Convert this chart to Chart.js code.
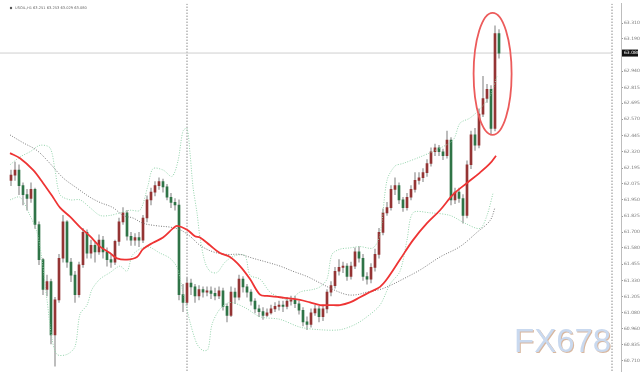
<!DOCTYPE html>
<html><head><meta charset="utf-8">
<script src="https://cdn.jsdelivr.net/npm/chart.js@4"></script>
<style>html,body{margin:0;padding:0;background:#fff;overflow:hidden}canvas{display:block}</style>
</head><body>
<canvas id="c" width="640" height="375"></canvas>
<script>
const headerText = 'USOIL,H1 63.251 63.253 63.029 63.080';
const watermarkText = 'FX678';

const candleOpen = [
62.10,62.14,62.18,62.06,61.99,61.96,62.03,61.76,61.49,61.26,
61.32,60.91,61.18,61.50,61.78,61.47,61.37,61.22,61.45,61.70,
61.54,61.60,61.55,61.64,61.55,61.49,61.47,61.63,61.78,61.85,
61.67,61.64,61.66,61.64,61.81,61.95,62.01,62.06,62.09,62.05,
61.97,61.93,61.91,61.22,61.16,61.31,61.28,61.21,61.26,61.24,
61.25,61.23,61.21,61.25,61.13,61.06,61.24,61.20,61.34,61.28,
61.24,61.17,61.11,61.09,61.06,61.08,61.11,61.13,61.14,61.13,
61.17,61.18,61.15,61.10,61.01,60.99,61.08,61.11,61.05,61.11,
61.24,61.29,61.40,61.43,61.44,61.36,61.44,61.55,61.50,61.36,
61.34,61.43,61.53,61.70,61.85,61.89,62.03,62.06,61.95,61.89,
61.97,62.03,62.10,62.12,62.16,62.23,62.32,62.35,62.32,62.29,
62.41,61.95,62.01,61.96,61.83,62.22,62.45,62.37,62.61,62.73,
62.80,62.50,63.23];
const candleClose = [
62.14,62.18,62.06,61.99,61.96,62.03,61.76,61.49,61.26,61.32,
60.91,61.18,61.50,61.78,61.47,61.37,61.22,61.45,61.70,61.54,
61.60,61.55,61.64,61.55,61.49,61.47,61.63,61.78,61.85,61.67,
61.64,61.66,61.64,61.81,61.95,62.01,62.06,62.09,62.05,61.97,
61.93,61.91,61.22,61.16,61.31,61.28,61.21,61.26,61.24,61.25,
61.23,61.21,61.25,61.13,61.06,61.24,61.20,61.34,61.28,61.24,
61.17,61.11,61.09,61.06,61.08,61.11,61.13,61.14,61.13,61.17,
61.18,61.15,61.10,61.01,60.99,61.08,61.11,61.05,61.11,61.24,
61.29,61.40,61.43,61.44,61.36,61.44,61.55,61.50,61.36,61.34,
61.43,61.53,61.70,61.85,61.89,62.03,62.06,61.95,61.89,61.97,
62.03,62.10,62.12,62.16,62.23,62.32,62.35,62.32,62.29,62.41,
61.95,62.01,61.96,61.83,62.22,62.45,62.37,62.61,62.73,62.80,
62.50,63.23,63.08];
const candleHigh = [
62.18,62.24,62.22,62.08,62.03,62.08,62.04,61.78,61.50,61.37,
61.34,61.20,61.53,61.83,61.79,61.50,61.40,61.47,61.73,61.72,
61.64,61.63,61.68,61.67,61.58,61.53,61.64,61.81,61.89,61.87,
61.70,61.69,61.70,61.83,61.98,62.04,62.09,62.12,62.11,62.07,
62.00,61.96,61.95,61.30,61.35,61.34,61.30,61.29,61.28,61.28,
61.28,61.27,61.28,61.27,61.15,61.28,61.27,61.37,61.36,61.30,
61.26,61.19,61.14,61.12,61.11,61.14,61.16,61.17,61.17,61.20,
61.21,61.21,61.17,61.12,61.05,61.11,61.14,61.13,61.14,61.26,
61.32,61.43,61.49,61.47,61.46,61.47,61.58,61.59,61.53,61.39,
61.46,61.57,61.73,61.88,61.93,62.06,62.12,62.08,61.97,62.00,
62.06,62.16,62.16,62.19,62.26,62.35,62.38,62.37,62.34,62.48,
62.43,62.04,62.04,61.99,62.25,62.48,62.50,62.65,62.90,62.84,
62.83,63.29,63.26];
const candleLow = [
62.06,62.10,61.99,61.91,61.87,61.93,61.73,61.45,61.22,61.21,
60.84,60.67,61.16,61.47,61.43,61.32,61.16,61.20,61.43,61.50,
61.50,61.47,61.53,61.50,61.44,61.43,61.45,61.60,61.76,61.64,
61.60,61.60,61.59,61.62,61.78,61.91,61.98,62.03,62.01,61.95,
61.89,61.87,61.18,61.09,61.14,61.22,61.16,61.18,61.20,61.21,
61.19,61.18,61.19,61.10,61.01,61.05,61.15,61.18,61.24,61.20,
61.14,61.08,61.05,61.03,61.05,61.07,61.09,61.10,61.09,61.11,
61.14,61.12,61.07,60.98,60.95,60.97,61.06,61.01,61.02,61.08,
61.21,61.27,61.37,61.39,61.33,61.34,61.42,61.47,61.33,61.30,
61.31,61.40,61.50,61.68,61.83,61.87,61.99,61.92,61.86,61.87,
61.95,62.01,62.07,62.09,62.13,62.21,62.29,62.29,62.26,62.27,
61.91,61.92,61.93,61.77,61.81,62.19,62.33,62.35,62.59,62.70,
62.45,62.48,63.04];

// moving average (red)
const maIdx = [-0.25,2.25,5.5,8,10.5,12.25,14.75,17.25,19.75,22.25,24.75,26.5,29,31.5,33,35.5,38,40.5,41.5,44,46,47.25,49.75,52.25,54.75,57.25,59.75,62.25,64,67.25,72.25,74.75,77.25,79.75,82.25,84.75,87.25,89.75,92.25,94,97.25,100.5,104,107.25,110.5,114,117.25,119.75,121.25];
const maVal = [62.31,62.27,62.18,62.08,61.97,61.89,61.82,61.74,61.67,61.59,61.54,61.50,61.49,61.51,61.57,61.62,61.66,61.73,61.75,61.72,61.67,61.66,61.60,61.54,61.51,61.44,61.34,61.22,61.21,61.20,61.18,61.16,61.14,61.14,61.14,61.16,61.20,61.24,61.28,61.34,61.49,61.64,61.77,61.87,61.99,62.08,62.16,62.23,62.29];

// slow moving average (grey dotted)
const slowIdx = [-0.25,3,6.5,9.75,13,16.5,19.75,22.25,25.5,28,30.5,33,36.5,39.75,42.25,44.75,47.25,50.5,54,57.25,60.5,64,67.25,70.5,74,77.25,80.5,84,86.5,89,92.25,94.75,98,102.25,107.25,112.25,116.5,119.75,121];
const slowVal = [62.45,62.39,62.33,62.23,62.12,62.04,61.97,61.93,61.89,61.83,61.81,61.77,61.75,61.74,61.72,61.67,61.60,61.55,61.53,61.53,61.50,61.47,61.44,61.40,61.36,61.31,61.26,61.22,61.22,61.24,61.26,61.29,61.34,61.41,61.51,61.59,61.70,61.79,61.89];

// bands (green dotted)
const upperIdx = [-0.25,2.25,4.75,7.25,9.75,11,12.25,14.75,17.25,19.75,22.25,24.75,27.25,29.75,32.25,34.25,35.5,38,40.25,41.75,43,44,44.75,45.5,46.5,47.25,48.5,49.75,51.5,53.5,56,58.5,59.75,62.25,64.75,67.25,69.75,72.25,75.5,77.25,79,80.25,82.25,84.75,87.25,90.5,92.25,94,96,98,102.25,106,110.5,112.25,114.75,117.25,119.75,121.5];
const upperVal = [62.22,62.28,62.32,62.37,62.35,62.18,61.99,61.95,61.95,61.89,61.83,61.83,61.85,61.87,61.87,62.06,62.19,62.18,62.13,62.25,62.48,62.50,62.31,62.05,61.85,61.66,61.47,61.40,61.39,61.47,61.52,61.52,61.37,61.34,61.24,61.20,61.18,61.24,61.26,61.28,61.34,61.53,61.57,61.58,61.59,61.58,61.68,62.10,62.21,62.23,62.28,62.33,62.41,62.54,62.58,62.65,62.75,62.90];
const lowerIdx = [-0.25,2.25,4.75,6.5,7.75,9,10.25,11.5,14,16,17.25,19,20.25,22.25,24.75,27.25,29,30.5,34,37.25,39.75,41.5,43,44.75,46.5,48,49.25,50.25,52.25,54.75,58.5,62.25,67.25,72.25,77.25,82.25,86,89,92.25,94.75,97.25,99,100.5,104.75,109.75,113.5,117.25,119,120.5];
const lowerVal = [61.95,61.97,61.83,61.70,61.49,61.18,60.88,60.76,60.76,60.82,61.07,61.14,61.26,61.34,61.39,61.44,61.40,61.53,61.59,61.54,61.50,61.43,61.24,61.01,60.84,60.79,60.80,60.99,61.11,61.16,61.12,61.05,61.03,60.97,60.95,60.95,60.99,61.05,61.14,61.30,61.40,61.64,61.85,61.85,61.83,61.77,61.73,61.83,62.00];

const tickValues = [63.310,63.190,62.940,62.815,62.695,62.570,62.445,62.320,62.195,62.075,61.950,61.825,61.700,61.580,61.455,61.330,61.205,61.080,60.960,60.835,60.710];
const currentPrice = 63.080;
const separatorIdx = [44, 150.25];
const highlight = {idx: 120.4, price: 62.92, rIdx: 4.75, rPrice: 0.47};

const yMin = 60.63, yMax = 63.46, xMin = -2.75, xMax = 152.5;

const upColor = '#943434', downColor = '#2f7447', wickColor = '#b0b0b0';

const pts = (xs, ys) => xs.map((v, i) => ({x: v, y: ys[i]}));

const wickData = candleHigh.map((h, i) => ({x: i, y: [candleLow[i], h]}));
const bodyData = candleOpen.map((o, i) => ({x: i, y: [o, candleClose[i]]}));
const bodyColors = candleOpen.map((o, i) => candleClose[i] >= o ? upColor : downColor);

const datasets = [
  {type:'line', data: pts(maIdx, maVal), borderColor:'#ee3434', borderWidth:1.8, pointRadius:0, tension:0.35, order:0},
  {type:'line', data: pts(slowIdx, slowVal), borderColor:'#7a7a7a', borderWidth:1, borderDash:[1,1.5], pointRadius:0, tension:0.35, order:0},
  {type:'line', data: pts(upperIdx, upperVal), borderColor:'#93d3ab', borderWidth:1, borderDash:[1,1.5], pointRadius:0, tension:0.3, order:0},
  {type:'line', data: pts(lowerIdx, lowerVal), borderColor:'#93d3ab', borderWidth:1, borderDash:[1,1.5], pointRadius:0, tension:0.3, order:0},
  {type:'line', data: [{x:xMin, y:currentPrice},{x:separatorIdx[1], y:currentPrice}], borderColor:'#cfcfcf', borderWidth:1, pointRadius:0, order:3},
  ...separatorIdx.map(s => ({type:'line', data:[{x:s, y:yMax},{x:s, y:yMin}], borderColor:'#555', borderWidth:1, borderDash:[1,2], pointRadius:0, order:3})),
  {type:'bar', data: bodyData, backgroundColor: bodyColors, barThickness:2, grouped:false, minBarLength:1, order:1},
  {type:'bar', data: wickData, backgroundColor: wickColor, barThickness:1, grouped:false, order:2}
];

const overlay = {
  id: 'overlay',
  afterDatasetsDraw(chart) {
    const {ctx, scales: {x, y}} = chart;
    const cx = x.getPixelForValue(highlight.idx), cy = y.getPixelForValue(highlight.price);
    const rx = Math.abs(x.getPixelForValue(highlight.idx + highlight.rIdx) - cx);
    const ry = Math.abs(y.getPixelForValue(highlight.price + highlight.rPrice) - cy);
    ctx.save();
    ctx.beginPath();
    ctx.ellipse(cx, cy, rx, ry, 0, 0, Math.PI * 2);
    ctx.strokeStyle = '#ec5b5b';
    ctx.lineWidth = 1.8;
    ctx.stroke();
    ctx.restore();
  },
  afterDraw(chart) {
    const {ctx, scales: {y}, chartArea} = chart;
    ctx.save();
    const py = y.getPixelForValue(currentPrice);
    ctx.fillStyle = '#111';
    ctx.fillRect(chartArea.right + 1, py - 3.5, 16, 7);
    ctx.fillStyle = '#fff';
    ctx.font = '4.5px "DejaVu Sans"';
    ctx.textBaseline = 'middle';
    ctx.textAlign = 'left';
    ctx.fillText(currentPrice.toFixed(3), chartArea.right + 3, py);
    ctx.fillStyle = '#555';
    ctx.beginPath(); ctx.arc(11, 8, 1.2, 0, Math.PI * 2); ctx.fill();
    ctx.fillStyle = '#666';
    ctx.font = '3.6px "DejaVu Sans"';
    ctx.fillText(headerText, 15, 8);
    ctx.font = '33px "Liberation Sans"';
    ctx.textBaseline = 'alphabetic';
    ctx.fillStyle = '#d8b79f';
    ctx.fillText(watermarkText, 515, 353);
    ctx.fillStyle = '#c9d9ef';
    ctx.fillText(watermarkText, 514, 352);
    ctx.restore();
  }
};

new Chart(document.getElementById('c'), {
  type: 'line',
  data: {datasets},
  options: {
    responsive: false,
    animation: false,
    layout: {padding: {top: 2, bottom: 3, left: 0, right: 0}},
    plugins: {legend: {display: false}, tooltip: {enabled: false}},
    scales: {
      x: {type: 'linear', min: xMin, max: xMax, offset: false, display: false},
      y: {
        type: 'linear', position: 'right', min: yMin, max: yMax,
        afterFit(s) { s.width = 19; },
        afterBuildTicks(s) { s.ticks = tickValues.map(v => ({value: v})); },
        ticks: {
          callback: v => Number(v).toFixed(3),
          font: {size: 4.5, family: 'DejaVu Sans'},
          color: '#777', padding: 1, autoSkip: false
        },
        grid: {display: true, drawOnChartArea: false, drawTicks: true, tickLength: 2, color: '#999'},
        border: {display: true, color: '#bdbdbd'}
      }
    }
  },
  plugins: [overlay]
});
</script>
</body></html>
